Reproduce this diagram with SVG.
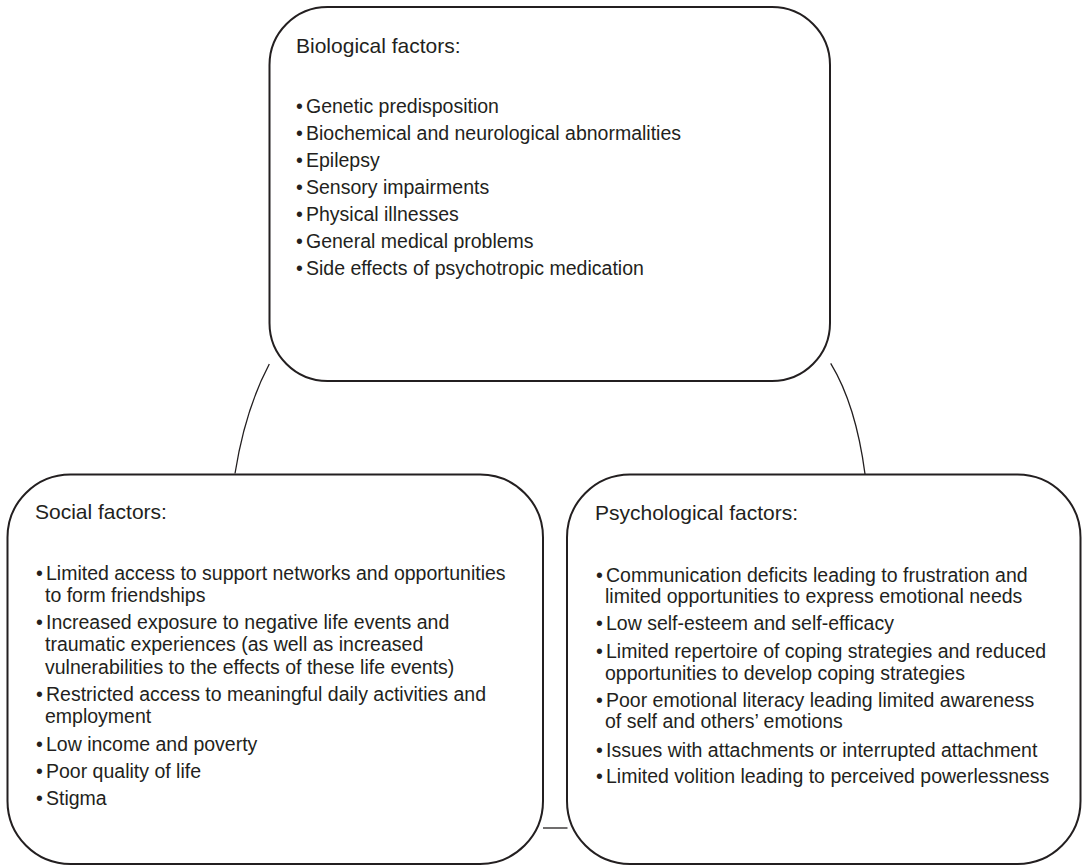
<svg xmlns="http://www.w3.org/2000/svg" width="1082" height="866" viewBox="0 0 1082 866">
  <style>
    .box { fill: #ffffff; stroke: #231f20; stroke-width: 2; }
    .link { fill: none; stroke: #231f20; stroke-width: 1.3; }
    text { font-family: "Liberation Sans", Arial, sans-serif; font-size: 19.5px; fill: #231f20; }
    text.title { font-size: 21px; }
  </style>
  <rect width="1082" height="866" fill="#ffffff"/>

  <!-- connectors between the three factor boxes -->
  <g id="connectors">
    <path class="link" d="M269.3,364 Q245,410 235,473.5"/>
    <path class="link" d="M830.7,363.3 Q856,405 865,474"/>
    <path class="link" d="M543,828 L567.5,828"/>
  </g>

  <!-- biological factors -->
  <g id="biological">
    <rect class="box" x="269.5" y="7" width="560.5" height="374" rx="58" ry="58"/>
    <text class="title" x="296" y="53">Biological factors:</text>
    <text y="113"><tspan x="296">•</tspan><tspan x="306">Genetic predisposition</tspan></text>
    <text y="140"><tspan x="296">•</tspan><tspan x="306">Biochemical and neurological abnormalities</tspan></text>
    <text y="167"><tspan x="296">•</tspan><tspan x="306">Epilepsy</tspan></text>
    <text y="194"><tspan x="296">•</tspan><tspan x="306">Sensory impairments</tspan></text>
    <text y="221"><tspan x="296">•</tspan><tspan x="306">Physical illnesses</tspan></text>
    <text y="248"><tspan x="296">•</tspan><tspan x="306">General medical problems</tspan></text>
    <text y="275"><tspan x="296">•</tspan><tspan x="306">Side effects of psychotropic medication</tspan></text>
  </g>

  <!-- social factors -->
  <g id="social">
    <rect class="box" x="7.5" y="474.5" width="535.5" height="389.5" rx="63" ry="63"/>
    <text class="title" x="35" y="519">Social factors:</text>
    <text y="580"><tspan x="36">•</tspan><tspan x="46">Limited access to support networks and opportunities</tspan><tspan x="45" y="602">to form friendships</tspan></text>
    <text y="629"><tspan x="36">•</tspan><tspan x="46">Increased exposure to negative life events and</tspan><tspan x="45" y="651">traumatic experiences (as well as increased</tspan><tspan x="45" y="674">vulnerabilities to the effects of these life events)</tspan></text>
    <text y="701"><tspan x="36">•</tspan><tspan x="46">Restricted access to meaningful daily activities and</tspan><tspan x="45" y="723">employment</tspan></text>
    <text y="751"><tspan x="36">•</tspan><tspan x="46">Low income and poverty</tspan></text>
    <text y="778"><tspan x="36">•</tspan><tspan x="46">Poor quality of life</tspan></text>
    <text y="805"><tspan x="36">•</tspan><tspan x="46">Stigma</tspan></text>
  </g>

  <!-- psychological factors -->
  <g id="psychological">
    <rect class="box" x="567" y="474.5" width="513.5" height="389.5" rx="63" ry="63"/>
    <text class="title" x="595" y="520">Psychological factors:</text>
    <text y="582"><tspan x="596">•</tspan><tspan x="606">Communication deficits leading to frustration and</tspan><tspan x="605" y="603">limited opportunities to express emotional needs</tspan></text>
    <text y="630"><tspan x="596">•</tspan><tspan x="606">Low self-esteem and self-efficacy</tspan></text>
    <text y="658"><tspan x="596">•</tspan><tspan x="606">Limited repertoire of coping strategies and reduced</tspan><tspan x="605" y="680">opportunities to develop coping strategies</tspan></text>
    <text y="707"><tspan x="596">•</tspan><tspan x="606">Poor emotional literacy leading limited awareness</tspan><tspan x="605" y="728">of self and others’ emotions</tspan></text>
    <text y="757"><tspan x="596">•</tspan><tspan x="606">Issues with attachments or interrupted attachment</tspan></text>
    <text y="783"><tspan x="596">•</tspan><tspan x="606">Limited volition leading to perceived powerlessness</tspan></text>
  </g>
</svg>
